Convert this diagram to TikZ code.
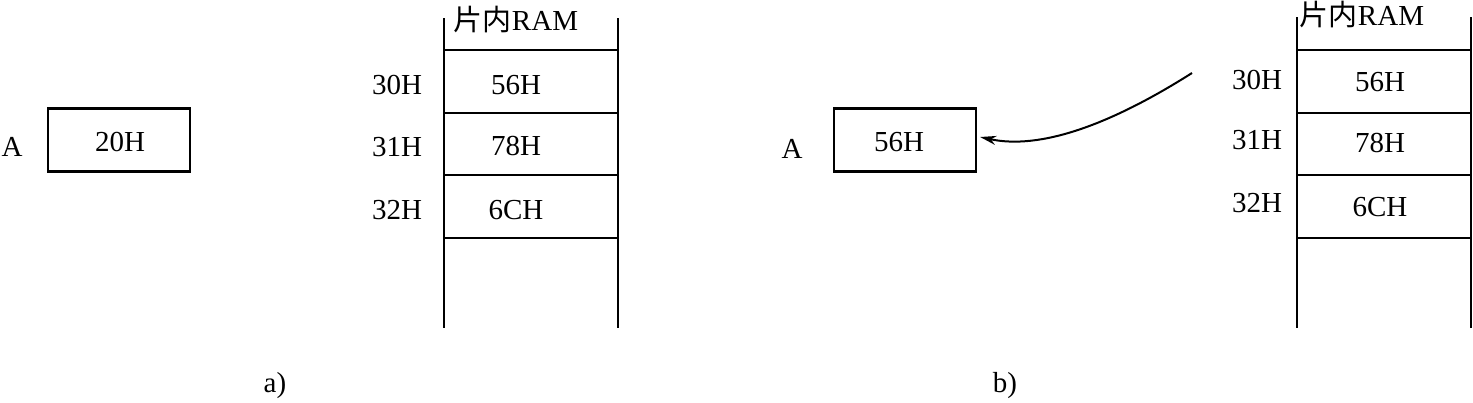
\documentclass[tikz,border=0pt]{standalone}
\usepackage{fontspec}
\setmainfont{Liberation Serif}
\newfontfamily\cjk{Noto Sans CJK SC}
\usetikzlibrary{arrows.meta, positioning}

\tikzset{
    regbox/.style={draw, line width=1.1pt, minimum width=71pt, minimum height=31.5pt, inner sep=0pt},
    plain/.style={inner sep=0pt},
}

\begin{document}
\begin{tikzpicture}[x=0.5pt, y=-0.5pt, font=\fontsize{14.5}{16}\selectfont, line width=1pt]
    \useasboundingbox (0,0) rectangle (1473,402);
    %%% (a) before the transfer
    \node[regbox] (accA) at (119,140) {};
    \node[plain] at (120,142) {20H};
    \node[plain] (labA) at (12,147) {A};
    %
    \draw (444,18) -- (444,328);
    \draw (618,18) -- (618,328);
    \draw (444,50) -- (618,50);
    \draw (444,113) -- (618,113);
    \draw (444,175) -- (618,175);
    \draw (444,238) -- (618,238);
    \node[plain] (ramA) at (516,20) {{\cjk 片内}RAM};
    %
    \node[plain] (adrA0) at (397,85) {30H};
    \node[plain] (adrA1) at (397,147) {31H};
    \node[plain] (adrA2) at (397,210) {32H};
    \node[plain] (valA0) at (516,85) {56H};
    \node[plain] (valA1) at (516,146) {78H};
    \node[plain] (valA2) at (516,210) {6CH};
    %
    \node[plain] (capA) at (275,386) {a)};
    %
    %%% (b) after the transfer
    \node[regbox] (accB) at (905,140) {};
    \node[plain] at (899,142) {56H};
    \node[plain] (labB) at (792,149) {A};
    %
    \draw (1297,17) -- (1297,328);
    \draw (1471,17) -- (1471,328);
    \draw (1297,50) -- (1471,50);
    \draw (1297,113) -- (1471,113);
    \draw (1297,175) -- (1471,175);
    \draw (1297,238) -- (1471,238);
    \node[plain] (ramB) at (1362,15) {{\cjk 片内}RAM};
    %
    \node[plain] (adrB0) at (1257,80) {30H};
    \node[plain] (adrB1) at (1257,140) {31H};
    \node[plain] (adrB2) at (1257,203) {32H};
    \node[plain] (valB0) at (1380,82) {56H};
    \node[plain] (valB1) at (1380,143) {78H};
    \node[plain] (valB2) at (1380,207) {6CH};
    %
    \coordinate (src) at (1192,73);
    \draw[-{Stealth[length=8pt, width=4.5pt, inset=2.5pt]}] (src) .. controls (1110,125) and (1040,150) .. ([shift={(3,-3)}]accB.east);
    %
    \node[plain] (capB) at (1005,386) {b)};
\end{tikzpicture}
\end{document}
